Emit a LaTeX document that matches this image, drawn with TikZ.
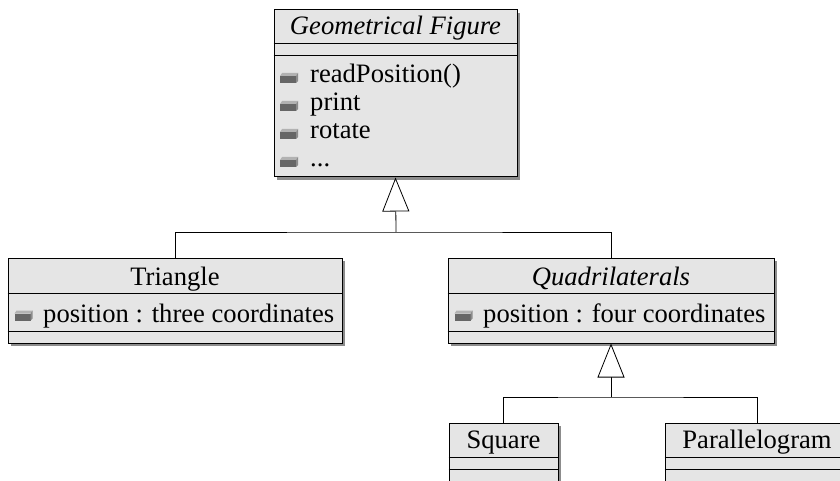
\documentclass[tikz,border=0pt]{standalone}
\usepackage{fontspec}
\setmainfont{Liberation Serif}
\usetikzlibrary{arrows.meta,shadows}

\begin{document}
\begin{tikzpicture}
[x=1pt,y=-1pt,
 umlclass/.style={rectangle,draw=black,fill=black!10,line width=1pt,inner sep=0pt,
   drop shadow={shadow xshift=3pt,shadow yshift=-3pt,fill=black!45,opacity=1}},
 sep/.style={line width=0.8pt},
 icon/.style={rectangle,minimum width=18pt,minimum height=10pt,inner sep=0pt,
   path picture={
     \fill[black!60] (path picture bounding box.south west) rectangle ([xshift=-2pt,yshift=-3pt]path picture bounding box.north east);
     \fill[black!30] ([yshift=-3pt]path picture bounding box.north west) -- ([xshift=2pt]path picture bounding box.north west)
       -- (path picture bounding box.north east) -- ([xshift=-2pt,yshift=-3pt]path picture bounding box.north east) -- cycle;
     \fill[black!45] ([xshift=-2pt,yshift=-3pt]path picture bounding box.north east) -- (path picture bounding box.north east)
       -- ([yshift=2pt]path picture bounding box.south east) -- ([xshift=-2pt]path picture bounding box.south east) -- cycle;}},
 title/.style={anchor=base,inner sep=0pt,font=\fontsize{26.6}{32}\selectfont},
 member/.style={anchor=base west,inner sep=0pt,font=\fontsize{26.6}{32}\selectfont},
 inherit/.style={-{Triangle[length=34pt,width=27pt,fill=white]},line width=0.8pt},
 link/.style={line width=0.8pt}]
\clip (0,0) rectangle (840,481);

% classes
\node[umlclass,minimum width=243pt,minimum height=167pt] (gf) at (395.5,93.5) {};
\node[umlclass,minimum width=334pt,minimum height=85pt] (tri) at (175,300.5) {};
\node[umlclass,minimum width=326pt,minimum height=85pt] (quad) at (611,300.5) {};
\node[umlclass,minimum width=109pt,minimum height=70pt] (sq) at (503.5,458) {};
\node[umlclass,minimum width=184pt,minimum height=70pt] (par) at (757,458) {};

% compartments
\draw[sep] (gf.west |- 0,43) -- (gf.east |- 0,43);
\draw[sep] (gf.west |- 0,55) -- (gf.east |- 0,55);
\draw[sep] (tri.west |- 0,293) -- (tri.east |- 0,293);
\draw[sep] (tri.west |- 0,331) -- (tri.east |- 0,331);
\draw[sep] (quad.west |- 0,293) -- (quad.east |- 0,293);
\draw[sep] (quad.west |- 0,331) -- (quad.east |- 0,331);
\draw[sep] (sq.west |- 0,457) -- (sq.east |- 0,457);
\draw[sep] (sq.west |- 0,469) -- (sq.east |- 0,469);
\draw[sep] (par.west |- 0,457) -- (par.east |- 0,457);
\draw[sep] (par.west |- 0,469) -- (par.east |- 0,469);

% names
\node[title] (gfname) at (395.5,35) {\itshape Geometrical Figure};
\node[title] (triname) at (175,285) {Triangle};
\node[title] (quadname) at (611,285) {\itshape Quadrilaterals};
\node[title] (sqname) at (503.5,448) {Square};
\node[title] (parname) at (757,448) {Parallelogram};

% members
\node[icon] (gfi1) at (289,78) {};
\node[member] (gfm1) at (310,83) {readPosition()};
\node[icon] (gfi2) at (289,106) {};
\node[member] (gfm2) at (310,111) {print};
\node[icon] (gfi3) at (289,134) {};
\node[member] (gfm3) at (310,139) {rotate};
\node[icon] (gfi4) at (289,162) {};
\node[member] (gfm4) at (310,167) {...};
\node[icon] (trii1) at (23.5,315.5) {};
\node[member] (trim1) at (43,322) {position : three coordinates};
\node[icon] (quadi1) at (463.5,315.5) {};
\node[member] (quadm1) at (483,322) {position : four coordinates};

% generalisations
\coordinate (j1) at (396,232);
\coordinate (j2) at (611,397);
\draw[inherit] (j1) -- (gf.south);
\draw[link] (tri.north) |- (j1) -| (quad.north);
\draw[inherit] (j2) -- (quad.south);
\draw[link] (sq.north) |- (j2) -| (par.north);
\end{tikzpicture}
\end{document}
